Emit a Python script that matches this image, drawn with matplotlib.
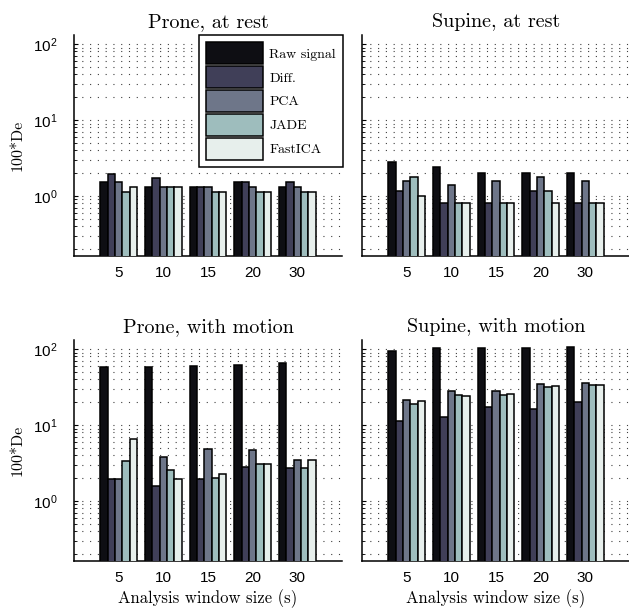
import numpy as np
import matplotlib.pyplot as plt
from matplotlib.ticker import LogLocator, NullFormatter, FixedLocator, FixedFormatter

plt.rcParams['font.family'] = ['Liberation Sans', 'DejaVu Sans']
serif = ['cmr10', 'DejaVu Serif']

window_sizes = ['5', '10', '15', '20', '30']
methods = ['Raw signal', 'Diff.', 'PCA', 'JADE', 'FastICA']
colors = ['#0e0e13', '#403f58', '#6e7689', '#9ebdbd', '#e7efec']

# rows: Raw, Diff., PCA, JADE, FastICA ; columns: window sizes
prone_rest = [
    [1.52, 1.33, 1.33, 1.52, 1.33],
    [1.92, 1.71, 1.33, 1.52, 1.52],
    [1.52, 1.33, 1.33, 1.33, 1.33],
    [1.14, 1.33, 1.14, 1.14, 1.14],
    [1.33, 1.33, 1.14, 1.14, 1.14],
]
supine_rest = [
    [2.81, 2.39, 2.00, 2.00, 2.00],
    [1.16, 0.80, 0.80, 1.16, 0.80],
    [1.57, 1.38, 1.57, 1.77, 1.57],
    [1.77, 0.80, 0.80, 1.16, 0.80],
    [1.00, 0.80, 0.80, 0.80, 0.80],
]
prone_motion = [
    [57.7, 58.8, 60.6, 62.5, 65.0],
    [1.92, 1.57, 1.92, 2.80, 2.72],
    [1.92, 3.79, 4.86, 4.72, 3.49],
    [3.32, 2.54, 2.01, 3.04, 2.72],
    [6.50, 1.92, 2.27, 3.04, 3.49],
]
supine_motion = [
    [95, 105, 105, 105, 108],
    [11.3, 12.8, 17.3, 16.2, 20.1],
    [21.6, 28.0, 28.0, 34.9, 36.0],
    [18.8, 24.6, 24.6, 31.6, 33.6],
    [20.8, 23.9, 25.9, 32.6, 33.6],
]

panels = [
    ('Prone, at rest', prone_rest),
    ('Supine, at rest', supine_rest),
    ('Prone, with motion', prone_motion),
    ('Supine, with motion', supine_motion),
]

fig = plt.figure(figsize=(6.29, 6.10), dpi=100)
W, H = 629, 610
boxes = [(74, 35), (362, 35), (74, 340), (362, 340)]  # pixel left/top
aw, ah = 268, 221

x = np.arange(1, len(window_sizes) + 1)
bw = 0.164

for i, (title, data) in enumerate(panels):
    l, t = boxes[i]
    ax = fig.add_axes([l / W, 1 - (t + ah) / H, aw / W, ah / H])
    ax.set_yscale('log')
    ax.set_axisbelow(True)
    for k, vals in enumerate(data):
        ax.bar(x + (k - 2) * bw, np.array(vals) - 1e-3, width=bw, bottom=1e-3,
               color=colors[k], edgecolor='black', linewidth=1.1,
               label=methods[k], zorder=3)
    ax.set_xlim(0, 6)
    ax.set_ylim(10 ** -0.79, 10 ** 2.12)
    ax.yaxis.set_major_locator(LogLocator(base=10, numticks=10))
    ax.yaxis.set_minor_locator(LogLocator(base=10, subs=np.arange(2, 10), numticks=20))
    ax.yaxis.set_minor_formatter(NullFormatter())
    ax.yaxis.grid(True, which='both', linestyle=(0, (1, 6)), linewidth=0.8, color='0.25')
    ax.xaxis.set_major_locator(FixedLocator(x))
    ax.xaxis.set_major_formatter(FixedFormatter(window_sizes))
    ax.tick_params(axis='x', length=0, labelsize=11, pad=7)
    ax.tick_params(axis='y', which='major', direction='in', length=3, width=0.8,
                   labelsize=11, pad=12)
    ax.tick_params(axis='y', which='minor', direction='in', length=1.8, width=0.6)
    for s in ['top', 'right']:
        ax.spines[s].set_visible(False)
    for s in ['left', 'bottom']:
        ax.spines[s].set_linewidth(1.1)
    ax.set_title(title, family=serif, fontsize=14.5, pad=6)
    if i % 2 == 0:
        ax.set_ylabel('100*De', family=serif, fontsize=11.5, labelpad=6)
    else:
        ax.set_yticklabels([])
    if i >= 2:
        ax.set_xlabel('Analysis window size (s)', family=serif, fontsize=12, labelpad=3)
    if i == 0:
        leg = ax.legend(loc='upper right', bbox_to_anchor=(1.003, 1.0), borderaxespad=0,
                        prop={'family': serif, 'size': 10}, handlelength=4.1,
                        handleheight=2.12, labelspacing=0.1, handletextpad=0.45,
                        borderpad=0.5, fancybox=False, framealpha=1)
        leg.get_frame().set_edgecolor('black')
        leg.get_frame().set_linewidth(1.1)

fig.savefig('out.png', dpi=100)
